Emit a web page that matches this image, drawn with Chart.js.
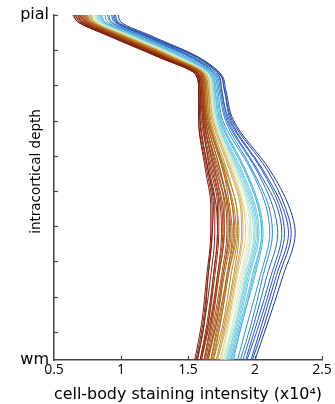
<!DOCTYPE html>
<html><head><meta charset="utf-8">
<script src="https://cdn.jsdelivr.net/npm/chart.js@4"></script>
<style>html,body{margin:0;padding:0;background:#fff;}canvas{display:block;}</style>
</head><body>
<canvas id="c" width="335" height="404"></canvas>
<script>
// depth samples: 0 = pial, 98 = white matter
const depthLevels = [0, 2, 6, 12, 17, 21, 30, 44, 54, 62, 74, 88, 98];

const redProfiles = [
  [0.64,0.68,0.91,1.28,1.56,1.58,1.58,1.63,1.67,1.67,1.64,1.60,1.55],
  [0.65,0.68,0.92,1.29,1.56,1.58,1.58,1.64,1.68,1.68,1.65,1.61,1.56],
  [0.66,0.69,0.92,1.29,1.56,1.58,1.59,1.65,1.69,1.68,1.65,1.62,1.57],
  [0.66,0.70,0.93,1.30,1.57,1.59,1.59,1.65,1.70,1.70,1.67,1.62,1.57],
  [0.68,0.71,0.93,1.31,1.57,1.59,1.61,1.66,1.71,1.72,1.69,1.65,1.59],
  [0.68,0.71,0.95,1.32,1.58,1.59,1.60,1.67,1.72,1.72,1.69,1.64,1.59],
  [0.67,0.71,0.94,1.31,1.58,1.60,1.61,1.68,1.73,1.73,1.70,1.65,1.60],
  [0.69,0.72,0.96,1.32,1.58,1.60,1.62,1.69,1.74,1.75,1.72,1.66,1.60]
];
const brownProfiles = [
  [0.70,0.73,0.96,1.33,1.58,1.61,1.62,1.70,1.75,1.76,1.72,1.67,1.62],
  [0.69,0.73,0.96,1.33,1.59,1.61,1.62,1.70,1.76,1.77,1.73,1.67,1.62],
  [0.70,0.74,0.97,1.33,1.59,1.61,1.63,1.71,1.77,1.77,1.73,1.68,1.63],
  [0.71,0.74,0.97,1.34,1.60,1.61,1.63,1.72,1.78,1.79,1.75,1.69,1.64],
  [0.72,0.75,0.99,1.35,1.61,1.62,1.64,1.74,1.79,1.80,1.76,1.70,1.65],
  [0.72,0.75,0.98,1.35,1.60,1.62,1.63,1.73,1.80,1.81,1.76,1.71,1.64],
  [0.72,0.75,0.98,1.35,1.60,1.62,1.64,1.74,1.80,1.82,1.77,1.71,1.65],
  [0.73,0.76,0.99,1.35,1.61,1.63,1.65,1.76,1.81,1.83,1.79,1.72,1.67],
  [0.73,0.77,1.00,1.36,1.61,1.63,1.65,1.76,1.83,1.84,1.79,1.73,1.67],
  [0.74,0.77,1.00,1.37,1.62,1.63,1.65,1.77,1.83,1.85,1.80,1.74,1.68],
  [0.74,0.78,1.01,1.37,1.61,1.64,1.66,1.77,1.84,1.86,1.80,1.74,1.69],
  [0.75,0.78,1.01,1.38,1.62,1.64,1.66,1.78,1.86,1.87,1.82,1.76,1.69]
];
const yellowProfiles = [
  [0.76,0.79,1.02,1.38,1.62,1.65,1.67,1.79,1.86,1.88,1.84,1.77,1.71],
  [0.77,0.80,1.03,1.39,1.63,1.65,1.68,1.81,1.89,1.90,1.85,1.78,1.72],
  [0.78,0.80,1.04,1.40,1.64,1.66,1.69,1.82,1.90,1.91,1.86,1.79,1.72],
  [0.78,0.81,1.04,1.40,1.64,1.66,1.69,1.83,1.91,1.93,1.87,1.80,1.74],
  [0.79,0.82,1.06,1.42,1.64,1.67,1.70,1.84,1.92,1.95,1.89,1.81,1.75]
];
const cyanProfiles = [
  [0.80,0.83,1.06,1.42,1.65,1.67,1.70,1.85,1.94,1.96,1.90,1.83,1.76],
  [0.80,0.83,1.07,1.43,1.65,1.68,1.70,1.86,1.95,1.97,1.91,1.83,1.77],
  [0.81,0.84,1.07,1.43,1.65,1.68,1.71,1.86,1.95,1.97,1.92,1.84,1.77],
  [0.81,0.84,1.07,1.43,1.66,1.68,1.71,1.87,1.96,1.99,1.93,1.85,1.78],
  [0.82,0.85,1.08,1.44,1.66,1.69,1.72,1.87,1.97,2.00,1.93,1.86,1.79],
  [0.82,0.85,1.08,1.44,1.66,1.68,1.72,1.88,1.98,2.01,1.94,1.86,1.79],
  [0.83,0.86,1.09,1.45,1.67,1.69,1.72,1.89,1.99,2.02,1.95,1.87,1.80],
  [0.84,0.87,1.10,1.46,1.67,1.70,1.73,1.90,2.00,2.03,1.96,1.88,1.81],
  [0.85,0.88,1.11,1.47,1.68,1.70,1.74,1.92,2.02,2.05,1.99,1.90,1.83],
  [0.84,0.87,1.10,1.46,1.67,1.70,1.74,1.92,2.02,2.05,1.98,1.89,1.82],
  [0.86,0.88,1.11,1.47,1.68,1.71,1.75,1.93,2.03,2.06,2.00,1.90,1.84]
];
const blueProfiles = [
  [0.88,0.90,1.13,1.49,1.69,1.72,1.76,1.97,2.08,2.11,2.04,1.94,1.87],
  [0.90,0.92,1.15,1.51,1.70,1.73,1.78,1.98,2.10,2.13,2.06,1.97,1.89],
  [0.91,0.93,1.16,1.52,1.71,1.74,1.79,2.01,2.13,2.17,2.09,1.99,1.91],
  [0.93,0.95,1.18,1.53,1.72,1.75,1.80,2.02,2.16,2.20,2.12,2.01,1.93],
  [0.94,0.96,1.19,1.54,1.73,1.75,1.81,2.05,2.18,2.22,2.14,2.03,1.94],
  [0.95,0.97,1.20,1.56,1.74,1.77,1.82,2.06,2.20,2.25,2.16,2.05,1.97],
  [0.96,0.98,1.21,1.57,1.74,1.77,1.83,2.09,2.22,2.27,2.18,2.07,1.98],
  [0.98,1.00,1.23,1.58,1.75,1.78,1.84,2.11,2.25,2.30,2.21,2.09,2.00]
];

const depthTicks = [0, 10, 20, 30, 40, 50, 60, 70, 80, 90, 98];
const depthTickLabels = ['pial', '', '', '', '', '', '', '', '', '', 'wm'];
const intensityTicks = [0.5, 1, 1.5, 2, 2.5];
const intensityTickLabels = ['0.5', '1', '1.5', '2', '2.5'];
const xTitle = 'cell-body staining intensity (x10\u2074)';
const yTitle = 'intracortical depth';

// colour map (style only), indexed by a line's position at the bulge
const cmap = [
  [0.00,'#7a1e0e'],[0.07,'#8c2a12'],[0.14,'#a03c14'],[0.22,'#a8581a'],
  [0.30,'#b47a22'],[0.36,'#c8a040'],[0.41,'#dccc80'],[0.45,'#e4ecc0'],
  [0.49,'#b8e6dc'],[0.54,'#78d0e0'],[0.62,'#48b4dc'],[0.70,'#3090cc'],
  [0.80,'#2a6cc0'],[0.90,'#2350b0'],[1.00,'#1c389c']
];
function hex2rgb(h){return [parseInt(h.substr(1,2),16),parseInt(h.substr(3,2),16),parseInt(h.substr(5,2),16)];}
function colorAt(t){
  t = Math.max(0, Math.min(1, t));
  for(let i=1;i<cmap.length;i++){
    if(t<=cmap[i][0]){
      const a=cmap[i-1], b=cmap[i], f=(t-a[0])/(b[0]-a[0]);
      const ca=hex2rgb(a[1]), cb=hex2rgb(b[1]);
      return 'rgb('+ca.map((v,k)=>Math.round(v+(cb[k]-v)*f)).join(',')+')';
    }
  }
  return cmap[cmap.length-1][1];
}

const allProfiles = [...redProfiles, ...brownProfiles, ...yellowProfiles, ...cyanProfiles, ...blueProfiles];
const peakIdx = 9;
const peakVals = allProfiles.map(p => p[peakIdx]);
const pMin = Math.min(...peakVals), pMax = Math.max(...peakVals);
const datasets = allProfiles.map((vals) => ({
  data: vals.map((v, k) => ({x: v, y: depthLevels[k]})),
  borderColor: colorAt((vals[peakIdx] - pMin) / (pMax - pMin)),
  borderWidth: 1,
  pointRadius: 0,
  fill: false,
  cubicInterpolationMode: 'monotone'
}));

const axisColor = '#444';
const extras = {
  id: 'extras',
  afterDatasetsDraw(chart){
    const {ctx, scales:{x, y}, chartArea:a} = chart;
    ctx.save();
    ctx.strokeStyle = axisColor; ctx.lineWidth = 1.2;
    depthTicks.forEach(v => {
      if (v === y.max) return;
      const py = Math.round(y.getPixelForValue(v)) + 0.5;
      ctx.beginPath(); ctx.moveTo(a.left, py); ctx.lineTo(a.left + 4, py); ctx.stroke();
    });
    intensityTicks.forEach(v => {
      if (v === x.min) return;
      const px = Math.round(x.getPixelForValue(v)) + 0.5;
      ctx.beginPath(); ctx.moveTo(px, a.bottom); ctx.lineTo(px, a.bottom - 4); ctx.stroke();
    });
    ctx.restore();
  },
  afterDraw(chart){
    const {ctx, chartArea:a} = chart;
    ctx.save();
    ctx.fillStyle = '#000';
    ctx.font = '13.5px "DejaVu Sans"';
    ctx.textAlign = 'center'; ctx.textBaseline = 'middle';
    ctx.translate(36, (a.top + a.bottom)/2 - 16);
    ctx.rotate(-Math.PI/2);
    ctx.fillText(yTitle, 0, 0);
    ctx.restore();
  }
};

new Chart(document.getElementById('c'), {
  type: 'line',
  data: { datasets },
  plugins: [extras],
  options: {
    responsive: false,
    animation: false,
    indexAxis: 'y',
    layout: { padding: { top: 15, right: 13, left: 0, bottom: 0 } },
    plugins: { legend: { display: false }, tooltip: { enabled: false } },
    scales: {
      x: {
        type: 'linear', position: 'bottom', min: 0.5, max: 2.5,
        afterBuildTicks: s => { s.ticks = intensityTicks.map(v => ({value: v})); },
        ticks: { callback: (v, i) => intensityTickLabels[i], font: {family: 'Open Sans', size: 14}, color: '#000', padding: 2, maxRotation: 0, autoSkip: false },
        grid: { display: true, drawOnChartArea: false, drawTicks: false },
        border: { display: true, color: axisColor, width: 1.5 },
        title: { display: true, text: xTitle, font: {family: 'DejaVu Sans', size: 16}, color: '#000', padding: {top: 0, bottom: 0} },
        afterFit: s => { s.height = 44; }
      },
      y: {
        type: 'linear', position: 'left', reverse: true, min: 0, max: 98,
        afterBuildTicks: s => { s.ticks = depthTicks.map(v => ({value: v})); },
        ticks: { callback: (v, i) => depthTickLabels[i], font: {family: 'DejaVu Sans', size: 16}, color: '#000', padding: 5, autoSkip: false },
        grid: { display: true, drawOnChartArea: false, drawTicks: false },
        border: { display: true, color: axisColor, width: 1.5 },
        afterFit: s => { s.width = 54; }
      }
    }
  }
});
</script>
</body></html>
